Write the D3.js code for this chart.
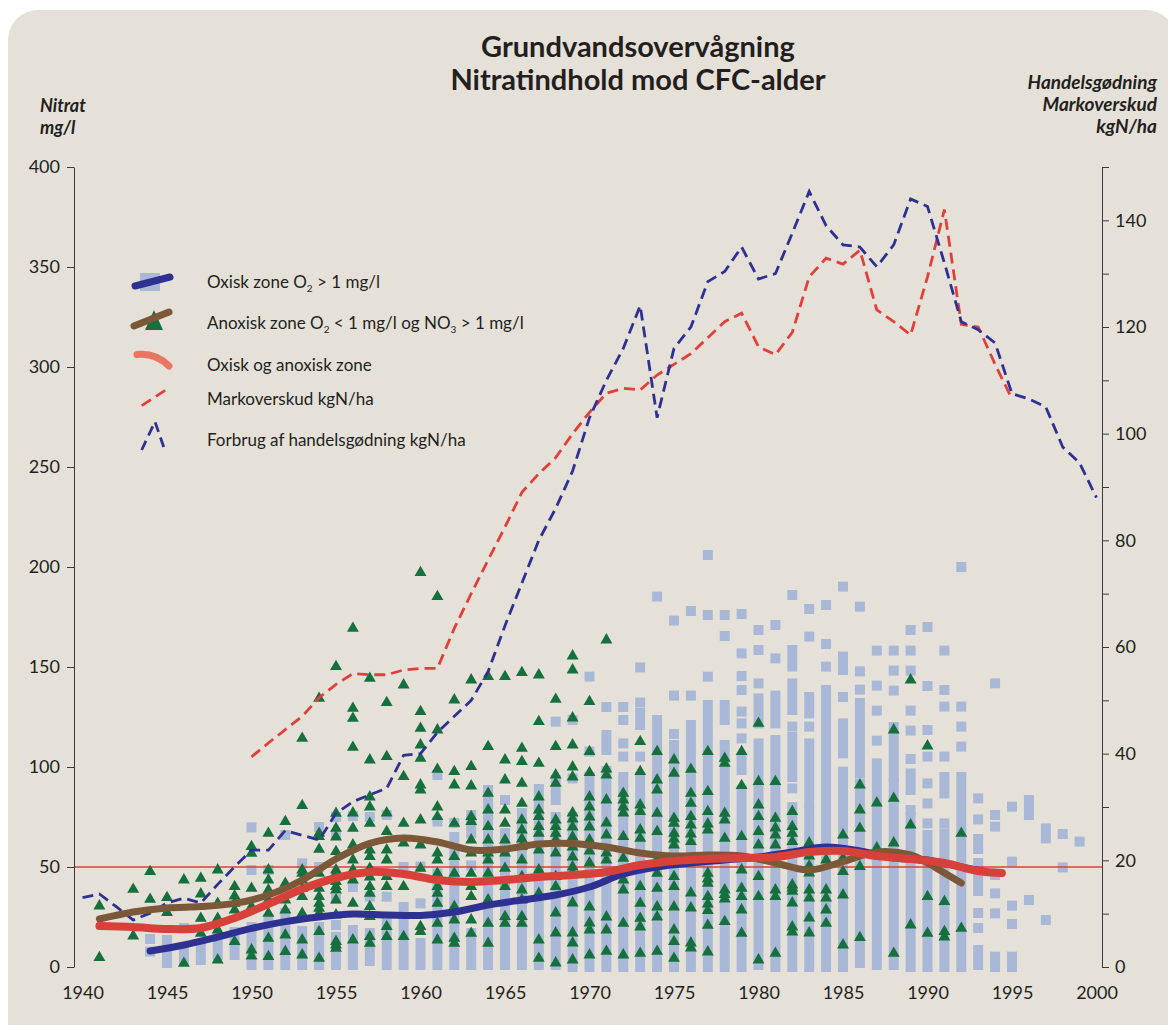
<!DOCTYPE html>
<html><head><meta charset="utf-8">
<script src="https://cdn.jsdelivr.net/npm/d3@7"></script>
<style>
body{margin:0;background:#fff;}
svg{display:block;font-family:Lato,"Open Sans",sans-serif;}
</style>
</head><body>
<svg id="c" width="1168" height="1025"></svg>
<script>
// ---------- DATA ----------
const xTickYears = [1940,1945,1950,1955,1960,1965,1970,1975,1980,1985,1990,1995,2000];
const leftTicks = [0,50,100,150,200,250,300,350,400];
const rightTicks = [0,10,20,30,40,50,60,70,80,90,100,110,120,130,140,150];
const limitValue = 50;

// Forbrug af handelsgødning kgN/ha (right axis)
const fertYears = [1940,1941,1942,1943,1944,1945,1946,1947,1948,1949,1950,1951,1952,1953,1954,1955,1956,1957,1958,1959,1960,1961,1962,1963,1964,1965,1966,1967,1968,1969,1970,1971,1972,1973,1974,1975,1976,1977,1978,1979,1980,1981,1982,1983,1984,1985,1986,1987,1988,1989,1990,1991,1992,1993,1994,1995,1996,1997,1998,1999,2000];
const fertValues = [13,13.7,11.3,8.8,10.1,12,12.9,12,15.5,18.8,21.9,21.9,25.6,24.7,23.8,28.8,31,32.3,33.5,39.7,40,44,47,50,55.4,64,72,80,86,93,103,110,116,124,103,116,120,128.5,130.4,135,129,130,137.6,145.4,139,135.4,135,131.3,135.4,144,142.6,132,121,119.5,117,107.5,106.5,105,97.5,94.5,88];

// Markoverskud kgN/ha (right axis)
const surplusYears = [1950,1951,1952,1953,1954,1955,1956,1957,1958,1959,1960,1961,1962,1963,1964,1965,1966,1967,1968,1969,1970,1971,1972,1973,1974,1975,1976,1977,1978,1979,1980,1981,1982,1983,1984,1985,1986,1987,1988,1989,1990,1991,1992,1993,1994,1995];
const surplusValues = [39.4,42,44.5,47,50.5,53,55,54.8,54.8,55.7,56,56,63.5,70,76.3,82.5,89,92.5,95.5,100,104,107.6,108.5,108.2,111,113,115,118,121,122.6,116.3,114.8,119,129.4,132.9,131.8,134.4,123.2,121,118.5,129.4,142,120.5,120,113,106.5];

// Smoothed nitrate curves (left axis, mg/l): [year, value]
const oxicCurve = [[1944,8],[1946,11],[1948,15],[1950,19.3],[1952,22.7],[1954,25],[1956,26.5],[1958,26],[1960,25.8],[1962,27.5],[1964,31],[1966,33.5],[1968,36],[1970,40],[1972,46.5],[1974,50],[1976,52],[1978,53.5],[1980,55],[1982,57.5],[1984,60],[1986,58],[1988,54.5],[1990,53.5],[1992,50],[1993.5,47.5]];
const anoxicCurve = [[1941,24],[1943,27.5],[1945,29.5],[1947,30.2],[1949,31.8],[1951,36],[1953,43.5],[1955,54],[1957,61.8],[1959,64.5],[1961,62.5],[1963,58.5],[1965,59],[1967,61.5],[1969,61.8],[1971,60],[1973,57],[1975,55.5],[1977,56],[1979,55.5],[1981,52],[1983,48.5],[1985,52.7],[1987,57.5],[1989,56],[1990,52],[1991,47],[1992,42]];
const combinedCurve = [[1941,20.5],[1943,20],[1945,19],[1947,19.5],[1949,24.5],[1951,31.5],[1953,39],[1955,44.5],[1957,47.5],[1959,46.5],[1961,43.5],[1963,42.5],[1965,43.5],[1967,45],[1969,46],[1971,47.5],[1973,51],[1975,53],[1977,54],[1979,54.5],[1981,55],[1983,57.5],[1985,58],[1987,55.5],[1989,54],[1991,52],[1993,48],[1994.4,47]];

// Oxic samples: overlapping runs of squares [year, low, high] and single squares [year, [values]]
const oxicRuns = [
[1945,2,13.5],[1946,4,9],[1947,3.5,11],[1948,6,14.5],[1949,6,17.5],[1950,1,20],[1951,1,24],[1952,1,27],[1953,1,18],[1954,1,20],
[1955,1,15],[1956,1,18.5],[1957,3,17],[1958,1,23.5],[1959,1,30],[1960,1,12],[1961,1,46.8],[1962,1,65],[1963,66.8,76],[1963,1,17],[1964,1,88.5],
[1965,1,67],[1966,1,77],[1967,1,89],[1968,83.5,93.5],[1968,1,75],[1969,0,75],[1970,0,95],[1971,108.5,116],[1971,0,98],
[1972,0,95],[1973,121,127],[1973,0,95],[1974,120,123.5],[1974,0,115],[1975,0,111],[1976,0,121],[1977,0,131],[1978,123.5,131],[1978,0,111],
[1979,98.5,103.5],[1979,0,88.5],[1980,121.8,134.3],[1980,1,111.8],[1981,121.8,135.7],[1981,0,113.5],[1982,150.2,158.5],[1982,128.5,141.8],[1982,95,115],[1982,0,80],
[1983,126.8,135],[1983,81.8,111.8],[1983,0,78.5],[1984,133.5,138.5],[1984,95,130],[1984,0,85],[1985,148.5,155.2],[1985,106.8,121.8],[1985,19.8,97.7],[1985,0,15],
[1986,97,132],[1986,31.5,91.8],[1986,2,30],[1987,1,101.8],[1988,115,120],[1988,95,110],[1988,1,91.7],[1989,88.5,96.8],[1989,0,75],[1990,0,66],
[1991,86.8,95],[1991,0,66.8],[1992,0,95],[1993,59,64],[1993,38,52],[1993,1,8.5],[1994,0,5.2],[1995,0,5.2],[1996,76,83.5],[1997,64.3,69.3]
];
const oxicPoints = [
[1944,[14,7.7]],[1946,[19.5]],[1950,[69.8,48.5]],[1951,[48.5]],[1952,[66]],[1953,[51.8]],[1954,[70,50]],[1955,[75,66,34,21]],
[1956,[75.5,40]],[1957,[75,35.2]],[1958,[76,35.2]],[1959,[50]],[1960,[50.2,31.8]],[1961,[96,72.7]],[1962,[72]],[1963,[50.8]],
[1965,[83.5]],[1968,[122.7]],[1969,[123.5,94.3]],[1970,[145.2,107.7]],[1971,[130]],[1972,[130,123.5,111.8,105.2]],
[1973,[149.8,132.2,105.2]],[1974,[185.2]],[1975,[173.2,135.7,116.5]],[1976,[178,135.7]],[1977,[206,176,145.2]],[1978,[176,165.5]],
[1979,[176.5,156.8,145.5,138.5,127.7,121.8,114.3]],[1980,[168.5,158.5,141.8]],[1981,[171,154.3]],[1982,[186,120.2,89.3]],[1983,[179,165.2,120.2]],
[1984,[181,161.5,150.2,90]],[1985,[190.2,135]],[1986,[180.2,147.8,138.7]],[1987,[158.2,140.7,128.2,113.2]],[1988,[158.2,148.2,138.2]],
[1989,[168.5,158.2,148.2,128.2,118.2,104,78.5]],[1990,[170,140.5,118.5,105.2,91.8,81.8,71.8]],[1991,[158.2,138.5,130.2,105.2,71.8]],
[1992,[200,130.2,120.2,110.2]],[1993,[84.3,73.8,27,19.5]],[1994,[141.8,76,70.2,46,36.8,26.8]],[1995,[80.2,52.7,30.7,21.5]],
[1996,[33.5]],[1997,[23.5]],[1998,[66.5,49.8]],[1999,[62.7]]
];

// Anoxic samples (triangles): [year, [values]]
const anoxicPoints = [
[1941,[30.5,4.7]],[1943,[38.8,15.5]],[1944,[47.7,33.8]],[1945,[34.7,27.2]],[1946,[43.5,1.8]],[1947,[44.3,36.5,24.3,16.8]],
[1948,[48.5,31.8,24.3,18.5,3.5]],[1949,[40.2,35.5,31.8,28.5,12.7]],[1950,[60.2,56.8,39.3,30.2,8.5,5.5]],
[1951,[66.8,48.5,43.5,38.5,33.5,26.8,14.3,5.2]],[1952,[72.7,41.8,33.5,28.5,16,7.7]],
[1953,[114.3,80.7,48.5,46.8,43.5,39.3,35.2,26.8,13.5,6]],[1954,[134.3,66.8,65.2,58.8,46.8,39.3,35.2,31.8,29.3,26.8,17.7,4.3]],
[1955,[150.2,76.8,69.3,65,57.7,48.5,46.8,42.7,40.2,38.5,33.5,26,12.7,11,9.3]],
[1956,[169.3,129.3,124.3,109.8,77,69.3,61,53.5,48.5,43.5,31.8,13.5]],
[1957,[144.3,103.5,85,80,71.8,58.5,55.2,49.3,45,40.2,36.8,30.2,25.2,15.2,11.8]],
[1958,[132.2,105.2,77,67.7,58.5,53.5,45.2,40.2,20.2,15.2]],
[1959,[141,95.2,71.8,62,40.2,15.2]],
[1960,[197.2,127.7,119.3,111,104.3,91,88.5,73.5,61,49.3,20.2,17.7]],
[1961,[185.2,118.5,98.8,80,75.2,57,53.5,46.8,40.2,36.8,31.8,21.8,13.5]],
[1962,[133.5,97.7,91,71.8,55.2,46.8,30.2,23.5,14.3,11.8]],
[1963,[143.5,100.2,90.5,75.2,72.7,63.5,57,46.8,40.2,35.2,23.5,16.8]],
[1964,[145.2,110.2,86.8,78.5,70.2,63.5,57,53.5,46.8,33.5,21.8,11.8]],
[1965,[145.2,103.5,93.5,78.5,71.8,63.5,57,49.3,40.2,25.2,21.8]],
[1966,[147.2,109.3,102.7,91.8,81.8,73.5,68.5,64,60.2,53.5,45.2,38.5,33.5,25.2,21.8]],
[1967,[146,122.7,101.8,85,78.5,75.2,70.2,66.8,58.5,48.5,36.8,13.5,4.3]],
[1968,[133.8,110.2,96,91.8,73.5,70.2,66.8,63.5,57,45.2,40.2,27,17,2]],
[1969,[155.5,148.5,124.5,111,100,95,77,74,70,65,60,55,50,47,32,17,12,3.5]],
[1970,[132.7,107.7,97.2,85,80,75,70,63.5,58,52,30,22,18.5,6]],
[1971,[163.5,99,96,83.5,72,66,57,53.5,25,18.5,7.8]],
[1972,[86.8,83.5,80,77,65.2,54.3,43.5,38.5,21.8,6]],
[1973,[112.7,97.7,81,77.7,68.5,64.3,40.2,31.8,24.3,20,6.8]],
[1974,[107.7,93.5,88.5,76.8,67.7,53.5,46.8,39.3,30,25,7.8]],
[1975,[103.5,96.8,74.3,71.8,66.8,64,61,53.5,45.2,40.2,30,18.5,12.7,4.3]],
[1976,[98.8,86.8,81.8,75.2,71,66.5,62.7,37,29.5,12,9.5]],
[1977,[107.7,87.7,77.7,71.5,68.5,46.8,44,41.8,35.2,31.5,28.2,20.8,7.5]],
[1978,[104.3,101.8,76.8,73.5,64.3,38.5,36.2,34,22.7]],
[1979,[107.7,90.7,65.2,48.5,39.3,35.2,28.5,16.8]],
[1980,[121.8,92.7,81,75.2,67.7,61,45.2,35.2,3.5]],
[1981,[92.7,74.3,69.5,66,61,38.5,35.2,6.8]],
[1982,[77.7,70.2,66.8,62.7,41,39.5,37.8,32,20,17.5]],
[1983,[62,55.5,50.5,47,38.5,34.5,24.5,17]],
[1984,[53.5,38.5,34.5,28.5,21.8]],
[1985,[66,54.3,47.7,36,11]],
[1986,[91,78.5,69.3,50.2,14.7]],
[1987,[82,59.5]],
[1988,[118.5,84.3,62,6.8]],
[1989,[143.5,71,21]],
[1990,[110.5,35.2,16.8]],
[1991,[32.7,17.7,15]],
[1992,[66.8,19.3]]
];

// ---------- CHART ----------
const svg = d3.select("#c");
const colBg = "#e5e1d9", colSq = "#a9b8d6", colTri = "#16703e";
const colBlue = "#2e3192", colBrown = "#7a5838", colRed = "#d8403a";
const textCol = "#231f20";

svg.append("rect").attr("x",8).attr("y",10).attr("width",1168).attr("height",1050).attr("rx",30).attr("fill",colBg);

const x = d3.scaleLinear().domain([1940,2000]).range([82.5,1096.5]);
const yL = d3.scaleLinear().domain([0,400]).range([967,167]);
const yR = d3.scaleLinear().domain([0,150]).range([967,167]);
const axisLeftX = 74, axisRightX = 1102;

// squares
const gSq = svg.append("g").attr("fill",colSq);
gSq.selectAll("rect.run").data(oxicRuns).join("rect").attr("class","run")
  .attr("x",d=>x(d[0])-5).attr("y",d=>yL(d[2])-5).attr("width",10).attr("height",d=>yL(d[1])-yL(d[2])+10);
const sqFlat = oxicPoints.flatMap(([yr,vals])=>vals.map(v=>[yr,v]));
gSq.selectAll("rect.pt").data(sqFlat).join("rect").attr("class","pt")
  .attr("x",d=>x(d[0])-5).attr("y",d=>yL(d[1])-5).attr("width",10).attr("height",10);

// 50 mg/l limit
svg.append("line").attr("x1",axisLeftX).attr("x2",axisRightX).attr("y1",yL(limitValue)).attr("y2",yL(limitValue))
  .attr("stroke","#d9413a").attr("stroke-width",1.5);

// triangles
const triFlat = anoxicPoints.flatMap(([yr,vals])=>vals.map(v=>[yr,v]));
const tri = d3.symbol(d3.symbolTriangle, 62);
svg.append("g").selectAll("path").data(triFlat).join("path")
  .attr("d",tri).attr("transform",d=>`translate(${x(d[0])},${yL(d[1])})`)
  .attr("fill",colTri);

// dashed lines
const lineR = d3.line().x(d=>x(d[0])).y(d=>yR(d[1]));
svg.append("path").datum(surplusYears.map((yr,i)=>[yr,surplusValues[i]])).attr("d",lineR)
  .attr("fill","none").attr("stroke","#e0403a").attr("stroke-width",2.8).attr("stroke-dasharray","11,6");
svg.append("path").datum(fertYears.map((yr,i)=>[yr,fertValues[i]])).attr("d",lineR)
  .attr("fill","none").attr("stroke",colBlue).attr("stroke-width",2.8).attr("stroke-dasharray","11,6");

// smooth curves
const lineL = d3.line().x(d=>x(d[0])).y(d=>yL(d[1])).curve(d3.curveCatmullRom.alpha(0.5));
[[oxicCurve,colBlue,7],[anoxicCurve,colBrown,7],[combinedCurve,colRed,8]].forEach(([data,c,w])=>{
  svg.append("path").datum(data).attr("d",lineL).attr("fill","none").attr("stroke",c)
    .attr("stroke-width",w).attr("stroke-linecap","round").attr("stroke-linejoin","round");
});

// axes
const gl = svg.append("g").attr("transform",`translate(${axisLeftX},0)`)
  .call(d3.axisLeft(yL).tickValues(leftTicks).tickSize(7).tickPadding(7).tickSizeOuter(0));
const gr = svg.append("g").attr("transform",`translate(${axisRightX},0)`)
  .call(d3.axisRight(yR).tickValues(rightTicks).tickSize(7).tickPadding(6).tickSizeOuter(0)
  .tickFormat(d=>d%20===0?d:""));
const gx = svg.append("g").attr("transform",`translate(0,981)`)
  .call(d3.axisBottom(x).tickValues(xTickYears).tickSize(0).tickPadding(5).tickFormat(d3.format("d")));
gx.select(".domain").remove();
[gl,gr,gx].forEach(g=>{
  g.selectAll("text").attr("font-family","Lato, sans-serif").attr("font-size",18).attr("fill",textCol);
  g.selectAll("line").attr("stroke","#3a3a3a");
  g.select(".domain").attr("stroke","#3a3a3a");
});

// titles
const t = svg.append("g").attr("fill",textCol).attr("font-weight","bold").attr("text-anchor","middle").attr("font-size",29);
t.append("text").attr("x",638).attr("y",57).text("Grundvandsovervågning");
t.append("text").attr("x",638).attr("y",90).text("Nitratindhold mod CFC-alder");

const la = svg.append("g").attr("fill",textCol).attr("font-weight","bold").attr("font-style","italic").attr("font-size",18);
la.append("text").attr("x",40).attr("y",112).text("Nitrat");
la.append("text").attr("x",40).attr("y",134).text("mg/l");
const ra = svg.append("g").attr("fill",textCol).attr("font-weight","bold").attr("font-style","italic").attr("font-size",19).attr("text-anchor","end");
ra.append("text").attr("x",1157).attr("y",89).text("Handelsgødning");
ra.append("text").attr("x",1157).attr("y",111).text("Markoverskud");
ra.append("text").attr("x",1157).attr("y",133).text("kgN/ha");

// legend
const lg = svg.append("g");
lg.append("rect").attr("x",140).attr("y",273).attr("width",20).attr("height",18).attr("fill",colSq);
lg.append("line").attr("x1",135).attr("y1",286).attr("x2",170).attr("y2",277).attr("stroke",colBlue).attr("stroke-width",7).attr("stroke-linecap","round");
lg.append("path").attr("d","M154,310 L163,330 L145,330 Z").attr("fill",colTri);
lg.append("line").attr("x1",134).attr("y1",326).attr("x2",169).attr("y2",312).attr("stroke",colBrown).attr("stroke-width",7).attr("stroke-linecap","round");
lg.append("path").attr("d","M137,354.5 C146,353.5 158,355 169,366").attr("fill","none").attr("stroke","#e9765f").attr("stroke-width",7).attr("stroke-linecap","round");
lg.append("path").attr("d","M141.7,405.7 L169.3,387.7").attr("fill","none").attr("stroke","#e0403a").attr("stroke-width",2.8).attr("stroke-dasharray","11,6");
lg.append("path").attr("d","M141.7,450 L155,421.7 L165,450.7").attr("fill","none").attr("stroke",colBlue).attr("stroke-width",2.8).attr("stroke-dasharray","10,6");

const legendRows = [
  {y:288, parts:[["Oxisk zone O"],["2","sub"],[" > 1 mg/l"]]},
  {y:329, parts:[["Anoxisk zone O"],["2","sub"],[" < 1 mg/l og NO"],["3","sub"],[" > 1 mg/l"]]},
  {y:371, parts:[["Oxisk og anoxisk zone"]]},
  {y:405, parts:[["Markoverskud kgN/ha"]]},
  {y:446, parts:[["Forbrug af handelsgødning kgN/ha"]]}
];
legendRows.forEach(r=>{
  const tx = lg.append("text").attr("x",207).attr("y",r.y).attr("font-size",17).attr("fill",textCol);
  r.parts.forEach((p,i)=>{
    const s = tx.append("tspan").text(p[0]);
    if(p[1]==="sub") s.attr("font-size",10).attr("dy",4);
    else if(i>0) s.attr("dy",-4);
  });
});
</script>
</body></html>
